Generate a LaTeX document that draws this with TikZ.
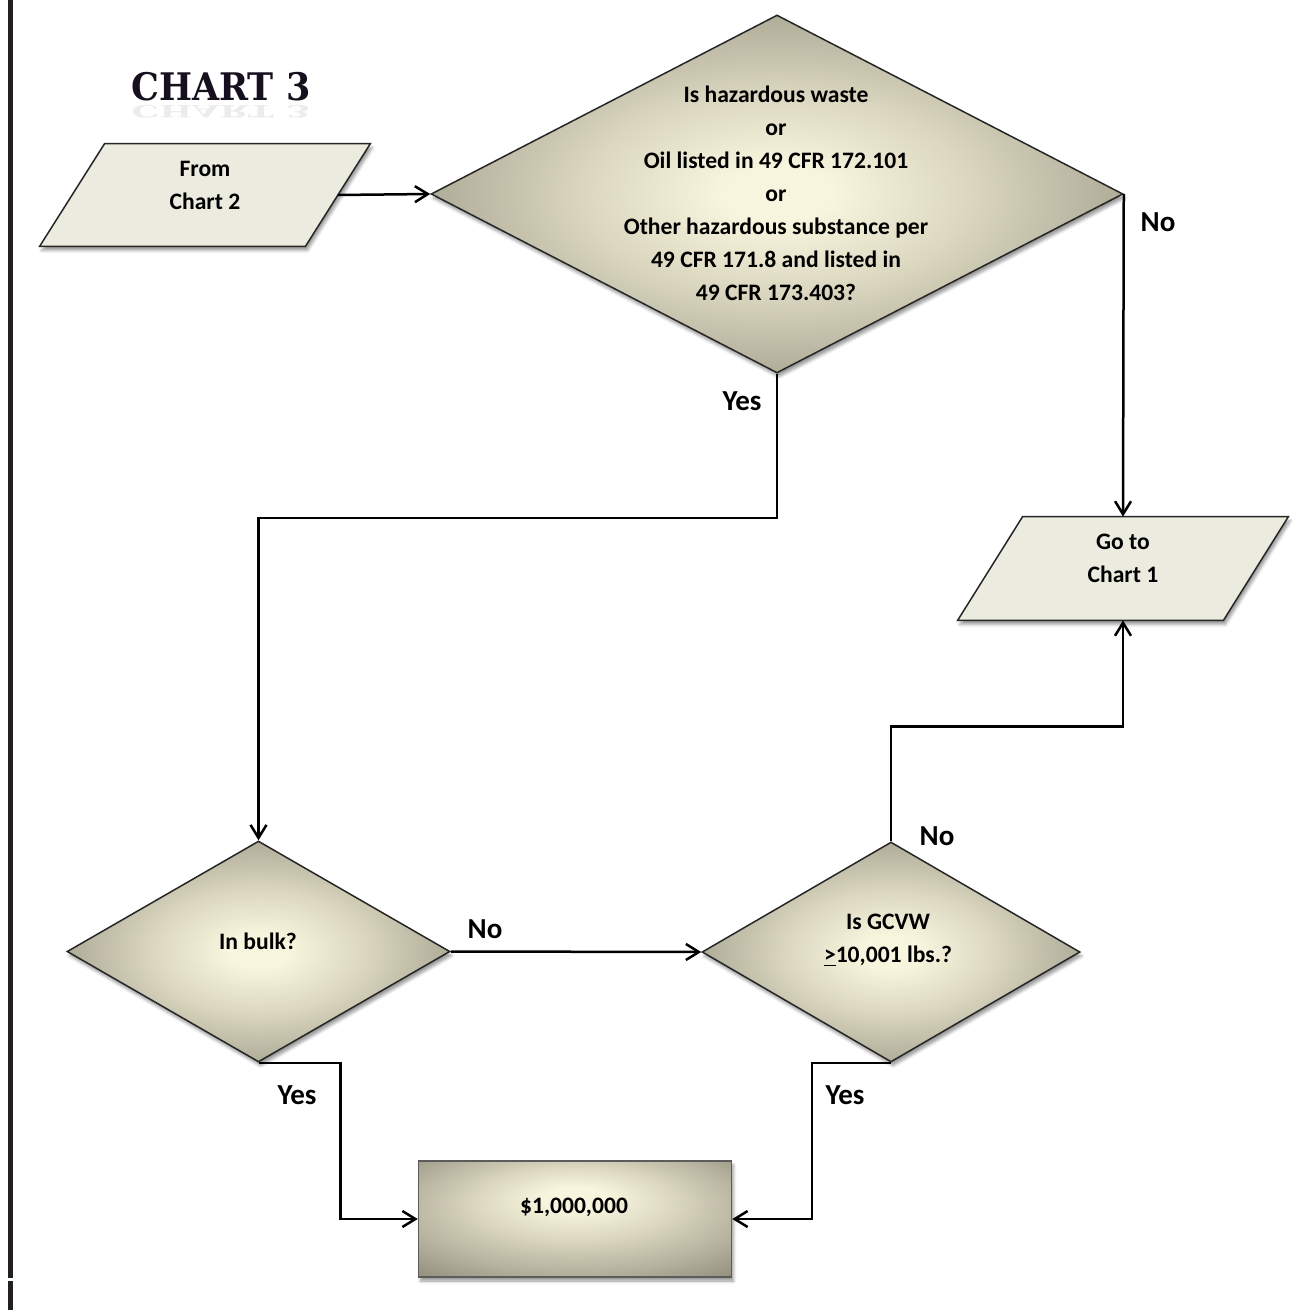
\documentclass[tikz,border=0pt]{standalone}
\usepackage{fontspec}
\setmainfont{Carlito}
\newfontfamily\titlefont{DejaVu Serif}
\usetikzlibrary{shapes.geometric,arrows.meta,shadows.blur,calc}

\definecolor{inkline}{HTML}{262626}
\definecolor{parafill}{HTML}{ECEBE0}
\definecolor{dinner}{HTML}{F8F5DE}
\definecolor{dlight}{HTML}{DAD6BF}
\definecolor{dmid}{HTML}{B3B09C}
\definecolor{douter}{HTML}{878472}
\definecolor{titleink}{HTML}{160F1E}
\definecolor{barink}{HTML}{231F20}

% light cream centre fading to warm grey at the edges
\pgfdeclareradialshading{decisionshade}{\pgfpoint{0bp}{0bp}}{%
  color(0bp)=(dinner); color(4bp)=(dinner); color(14bp)=(dlight);
  color(24bp)=(dmid); color(35bp)=(douter); color(50bp)=(douter)}
\pgfdeclareradialshading{outcomeshade}{\pgfpoint{0bp}{10bp}}{%
  color(0bp)=(dinner); color(5bp)=(dinner); color(16bp)=(dlight);
  color(28bp)=(dmid); color(40bp)=(douter); color(50bp)=(douter)}

\begin{document}
\begin{tikzpicture}[
  x=0.5pt, y=-0.5pt,
  softshadow/.style={blur shadow={shadow xshift=1pt, shadow yshift=-2pt,
      shadow blur radius=1.5pt, shadow opacity=40}},
  decision/.style={diamond, draw=inkline, line width=0.75pt,
      shading=decisionshade, inner sep=0pt, softshadow},
  outcome/.style={rectangle, draw=inkline!75, line width=0.75pt,
      shading=outcomeshade, inner sep=0pt, softshadow},
  paper/.style={fill=parafill, draw=inkline, line width=0.75pt, softshadow},
  paraframe/.style={rectangle, draw=none, inner sep=0pt,
      minimum width=132.5pt, minimum height=51pt},
  txt/.style={align=center, inner sep=0pt,
      font=\fontsize{11.8}{16.5}\selectfont\bfseries},
  lab/.style={inner sep=0pt, font=\fontsize{14.5}{17}\selectfont\bfseries},
  headline/.style={font=\titlefont\bfseries\fontsize{19}{22}\selectfont,
      text=titleink, xscale=0.92, anchor=base, inner sep=0pt},
  link/.style={draw=black, line width=1.25pt},
  conn/.style={link, -{Straight Barb[length=6.5pt,width=8pt]}},
]
\useasboundingbox (0,0) rectangle (1301,1310);

% margin rule on the left
\fill[barink] (8,0) rectangle (13,1278);
\fill[barink] (8,1281) rectangle (13,1310);

% title with a faint reflection
\node[headline] (title) at (221,101) {CHART 3};
\node[headline, yscale=-0.45, opacity=0.08] (titleecho) at (221,106) {CHART 3};

% input / output parallelograms
\node[paraframe] (from) at (205,195) {};
\path[paper] ($(from.north west)+(32.5,0)$) -- ($(from.north east)+(32.5,0)$)
  -- ($(from.south east)+(-32.5,0)$) -- ($(from.south west)+(-32.5,0)$) -- cycle;
\node[txt] (fromtext) at (205,185) {From\\Chart 2};

\node[paraframe, minimum height=51.5pt] (goto) at (1123,568.5) {};
\path[paper] ($(goto.north west)+(32.5,0)$) -- ($(goto.north east)+(32.5,0)$)
  -- ($(goto.south east)+(-32.5,0)$) -- ($(goto.south west)+(-32.5,0)$) -- cycle;
\node[txt] (gototext) at (1123,558) {Go to\\Chart 1};

% decisions
\node[decision, minimum width=346pt, minimum height=179pt] (haz) at (777,194) {};
\node[txt] (haztext) at (776,193) {Is hazardous waste\\or\\Oil listed in 49 CFR 172.101\\or\\Other hazardous substance per\\49 CFR 171.8 and listed in\\49 CFR 173.403?};

\node[decision, minimum width=191.5pt, minimum height=110.5pt] (bulk) at (258.5,951.5) {};
\node[txt] (bulktext) at (258,941) {In bulk?};

\node[decision, minimum width=189pt, minimum height=110pt] (gcvw) at (891,952) {};
\node[txt] (gcvwtext) at (888,940) {Is GCVW\\\underline{>}10,001 lbs.?};

% result
\node[outcome, minimum width=156.5pt, minimum height=58pt] (fine) at (575,1219) {};
\node[txt] (finetext) at (574,1207) {\$1,000,000};

% connectors
\draw[conn] (from.east) -- (haz.west);
\draw[conn] (haz.east) -- (goto.north);
\draw[conn] (haz.south) -- ++(0,144) -| (bulk.north);
\draw[conn] (bulk.east) -- (gcvw.west);
\draw[conn] (gcvw.north) -- ++(0,-115) -| (goto.south);
\draw[conn] (bulk.south) -- ++(82,0) |- (fine.west);
\draw[conn] (gcvw.south) -- ++(-79,0) |- (fine.east);

% branch labels
\node[lab] (noA) at (1158,222) {No};
\node[lab] (yesA) at (742,401) {Yes};
\node[lab] (noB) at (485,929) {No};
\node[lab] (noC) at (937,836) {No};
\node[lab] (yesB) at (297,1095) {Yes};
\node[lab] (yesC) at (845,1095) {Yes};
\end{tikzpicture}
\end{document}
